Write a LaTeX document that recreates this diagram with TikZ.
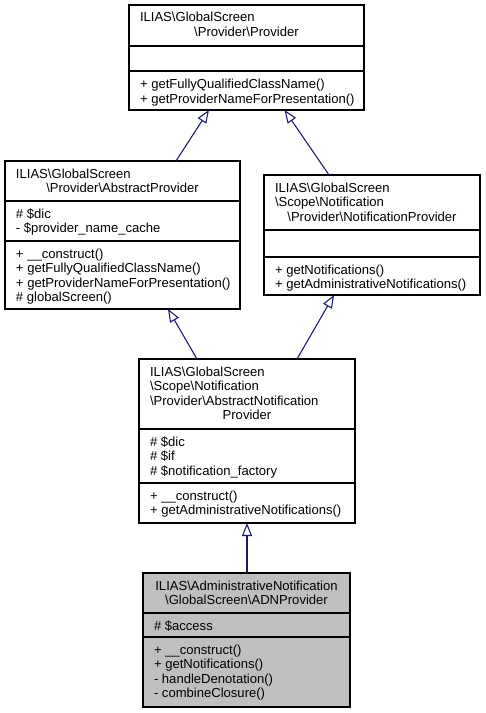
\documentclass[tikz,border=0pt]{standalone}
\usepackage{fontspec}
\setmainfont{Liberation Sans}
\usetikzlibrary{arrows.meta,calc}
\definecolor{edgeblue}{HTML}{191970}
\definecolor{boxgray}{HTML}{BFBFBF}
\newcommand{\bs}{\textbackslash}
\begin{document}
\begin{tikzpicture}[x=0.75pt,y=-0.75pt,
  classbox/.style={draw=black, line width=0.8pt, inner sep=0pt, outer sep=0pt, anchor=north west},
  sepline/.style={draw=black, line width=0.8pt},
  txt/.style={inner sep=0pt, outer sep=0pt, anchor=base west, align=left, font=\fontsize{9.8}{10.875}\selectfont},
  ctxt/.style={inner sep=0pt, outer sep=0pt, anchor=base, align=center, font=\fontsize{9.8}{10.875}\selectfont},
  inherit/.style={draw=edgeblue, line width=0.8pt, -{Triangle[open, length=9.75pt, width=7.5pt]}},
]
\path[fill=white] (0,0) rectangle (485,713);
\useasboundingbox (0,0) rectangle (485,713);

% (text nodes are placed at the baseline of their last line)

% Box 1: Provider
\node[classbox, minimum width=176.25pt, minimum height=78.75pt] (b1) at (129,5) {};
\draw[sepline] (129,46) -- (364,46);
\draw[sepline] (129,71) -- (364,71);
\node[txt] (t1a) at (140,22) {ILIAS\bs GlobalScreen};
\node[ctxt] (t1b) at (246.5,36.5) {\bs Provider\bs Provider};
\node[txt] (t1m) at (140,103.5) {+ getFullyQualifiedClassName()\\+ getProviderNameForPresentation()};

% Box 2: AbstractProvider
\node[classbox, minimum width=176.25pt, minimum height=111pt] (b2) at (5,161) {};
\draw[sepline] (5,201) -- (240,201);
\draw[sepline] (5,241) -- (240,241);
\node[txt] (t2a) at (16,178) {ILIAS\bs GlobalScreen};
\node[ctxt] (t2b) at (122.5,192.5) {\bs Provider\bs AbstractProvider};
\node[txt] (t2f) at (16,232.5) {\# \$dic\\- \$provider\_name\_cache};
\node[txt] (t2m) at (16,301.5) {+ \_\_construct()\\+ getFullyQualifiedClassName()\\+ getProviderNameForPresentation()\\\# globalScreen()};

% Box 3: NotificationProvider
\node[classbox, minimum width=162pt, minimum height=90pt] (b3) at (264,175) {};
\draw[sepline] (264,230) -- (480,230);
\draw[sepline] (264,257) -- (480,257);
\node[txt] (t3a) at (275,206.5) {ILIAS\bs GlobalScreen\\\bs Scope\bs Notification};
\node[ctxt] (t3b) at (372,221) {\bs Provider\bs NotificationProvider};
\node[txt] (t3m) at (275,288.5) {+ getNotifications()\\+ getAdministrativeNotifications()};

% Box 4: AbstractNotificationProvider
\node[classbox, minimum width=162pt, minimum height=123pt] (b4) at (139,359) {};
\draw[sepline] (139,429) -- (355,429);
\draw[sepline] (139,483) -- (355,483);
\node[txt] (t4a) at (150,405) {ILIAS\bs GlobalScreen\\\bs Scope\bs Notification\\\bs Provider\bs AbstractNotification};
\node[ctxt] (t4b) at (247,419.5) {Provider};
\node[txt] (t4f) at (150,475) {\# \$dic\\\# \$if\\\# \$notification\_factory};
\node[txt] (t4m) at (150,514.5) {+ \_\_construct()\\+ getAdministrativeNotifications()};

% Box 5: ADNProvider
\node[classbox, fill=boxgray, minimum width=155.25pt, minimum height=100.5pt] (b5) at (143,573) {};
\draw[sepline] (143,613) -- (350,613);
\draw[sepline] (143,637) -- (350,637);
\node[ctxt] (t5a) at (246.5,604.5) {ILIAS\bs AdministrativeNotification\\\bs GlobalScreen\bs ADNProvider};
\node[txt] (t5f) at (154,630) {\# \$access};
\node[txt] (t5m) at (154,697.5) {+ \_\_construct()\\+ getNotifications()\\- handleDenotation()\\- combineClosure()};

% Inheritance edges
\draw[inherit] ($(b2.north west)+(171,0)$) -- ($(b1.south west)+(80,0)$);
\draw[inherit] ($(b3.north west)+(65,0)$) -- ($(b1.south west)+(155.5,0)$);
\draw[inherit] ($(b4.north west)+(58,0)$) -- ($(b2.south west)+(163,0)$);
\draw[inherit] ($(b4.north west)+(158,0)$) -- ($(b3.south west)+(70,0)$);
\draw[inherit] ($(b5.north west)+(104,0)$) -- ($(b4.south west)+(108,0)$);
\end{tikzpicture}
\end{document}
